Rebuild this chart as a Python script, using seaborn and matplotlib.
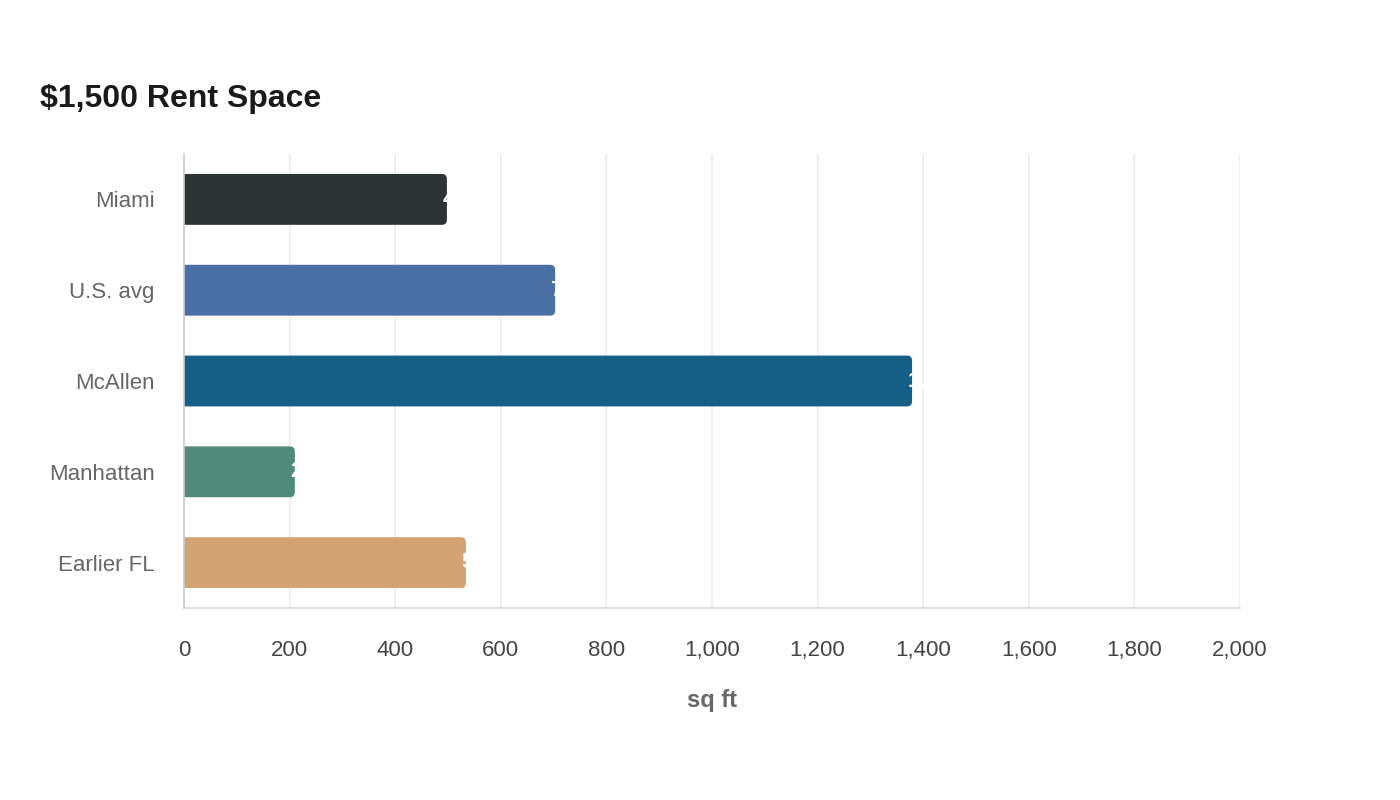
import pandas as pd
import matplotlib.pyplot as plt
import seaborn as sns
from matplotlib.patches import FancyBboxPatch

# data
places = ["Miami", "U.S. avg", "McAllen", "Manhattan", "Earlier FL"]
sqft = [498, 703, 1379, 210, 534]
colors = ["#2d3436", "#4a6fa5", "#166088", "#4f8a7b", "#d4a373"]
xticks = [0, 200, 400, 600, 800, 1000, 1200, 1400, 1600, 1800, 2000]

df = pd.DataFrame({"place": places, "sqft": sqft})

sns.set_theme(style="white")
plt.rcParams["font.family"] = ["Liberation Sans", "DejaVu Sans"]

fig = plt.figure(figsize=(14, 8), dpi=100)
ax = fig.add_axes([0.1314, 0.24, 0.7543, 0.5675])

sns.barplot(data=df, x="sqft", y="place", hue="place", palette=colors,
            legend=False, width=0.56, saturation=1, linewidth=0, ax=ax, zorder=3)

ax.set_xlim(0, 2000)

# swap the square bars for ones with rounded ends
px_x = 1056 / 2000   # pixels per x unit
px_y = 91            # pixels per category
r = 5 / px_x
for bar in list(ax.patches):
    x, y = bar.get_x(), bar.get_y()
    w, h = bar.get_width(), bar.get_height()
    fb = FancyBboxPatch((x - 3 * r, y), w + 3 * r, h,
                        boxstyle=f"round,pad=0,rounding_size={r}",
                        mutation_aspect=(5 / px_y) / r,
                        facecolor=bar.get_facecolor(), edgecolor="none",
                        zorder=3, clip_on=True)
    ax.add_patch(fb)
    bar.remove()

# white value labels sitting at the bar ends
for v, p in zip(sqft, places):
    ax.annotate(f"{v:,}", xy=(v, p), xytext=(-3, 0), textcoords="offset points",
                ha="left", va="center", color="white", fontsize=16,
                fontweight="bold", zorder=4)

ax.set_xticks(xticks)
ax.set_xticklabels([f"{t:,}" for t in xticks])
ax.grid(axis="x", color="#ececec", linewidth=1.2, zorder=0)
ax.grid(axis="y", visible=False)

for s in ["top", "right"]:
    ax.spines[s].set_visible(False)
ax.spines["left"].set_color("#cccccc")
ax.spines["bottom"].set_color("#d9d9d9")
ax.spines["left"].set_linewidth(1.2)
ax.spines["bottom"].set_linewidth(1.2)
ax.spines["left"].set_zorder(5)

ax.tick_params(axis="x", length=0, pad=23, labelsize=16, labelcolor="#444444")
ax.tick_params(axis="y", length=0, pad=21, labelsize=16, labelcolor="#666666")

ax.set_ylabel("")
ax.set_xlabel("sq ft", fontsize=17, fontweight="bold", color="#666666", labelpad=20)

fig.text(0.0286, 0.866, "$1,500 Rent Space", fontsize=23, fontweight="bold",
         color="#1a1a1a", va="baseline", ha="left")

fig.savefig("out.png", dpi=100, facecolor="white")
